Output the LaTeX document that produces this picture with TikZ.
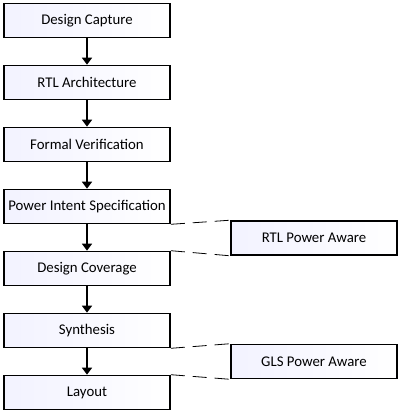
\documentclass[tikz,border=0pt]{standalone}
\usepackage{fontspec}
\setmainfont{Carlito}
\usetikzlibrary{arrows.meta}
\tikzset{ flow_step/.style = {rectangle, draw, line width=1.6pt, minimum width=166pt, minimum height=34pt, inner sep=0pt, align=center, left color=blue!5, right color=white, font=\fontsize{14.8}{17}\selectfont} }
\tikzset{ flow_arrow/.style = {line width=1.6pt, -{Triangle[width=10pt,length=7pt]}} }
\tikzset{ aware_link/.style = {dash pattern=on 14pt off 8pt, line width=0.8pt} }

\begin{document}
\begin{tikzpicture}[x=1pt,y=-1pt]
        \useasboundingbox (0,0) rectangle (400,414);
        \node[flow_step] (capture) at (87,20.5) {Design Capture};
        \node[flow_step] (arch) at (87,82.5) {RTL Architecture};
        \node[flow_step] (formal) at (87,144.5) {Formal Verification};
        \node[flow_step] (intent) at (87,206.5) {Power Intent Specification};
        \node[flow_step] (coverage) at (87,268.5) {Design Coverage};
        \node[flow_step] (synth) at (87,330.5) {Synthesis};
        \node[flow_step] (layout) at (87,392.5) {Layout};
        \node[flow_step] (rtlpa) at (314,238) {RTL Power Aware};
        \node[flow_step] (glspa) at (314,361.5) {GLS Power Aware};
        \draw[flow_arrow] (capture) to (arch);
        \draw[flow_arrow] (arch) to (formal);
        \draw[flow_arrow] (formal) to (intent);
        \draw[flow_arrow] (intent) to (coverage);
        \draw[flow_arrow] (coverage) to (synth);
        \draw[flow_arrow] (synth) to (layout);
        \draw[aware_link] (intent.south east) to (rtlpa.north west);
        \draw[aware_link] (coverage.north east) to (rtlpa.south west);
        \draw[aware_link] (synth.south east) to (glspa.north west);
        \draw[aware_link] (layout.north east) to (glspa.south west);
\end{tikzpicture}
\end{document}
